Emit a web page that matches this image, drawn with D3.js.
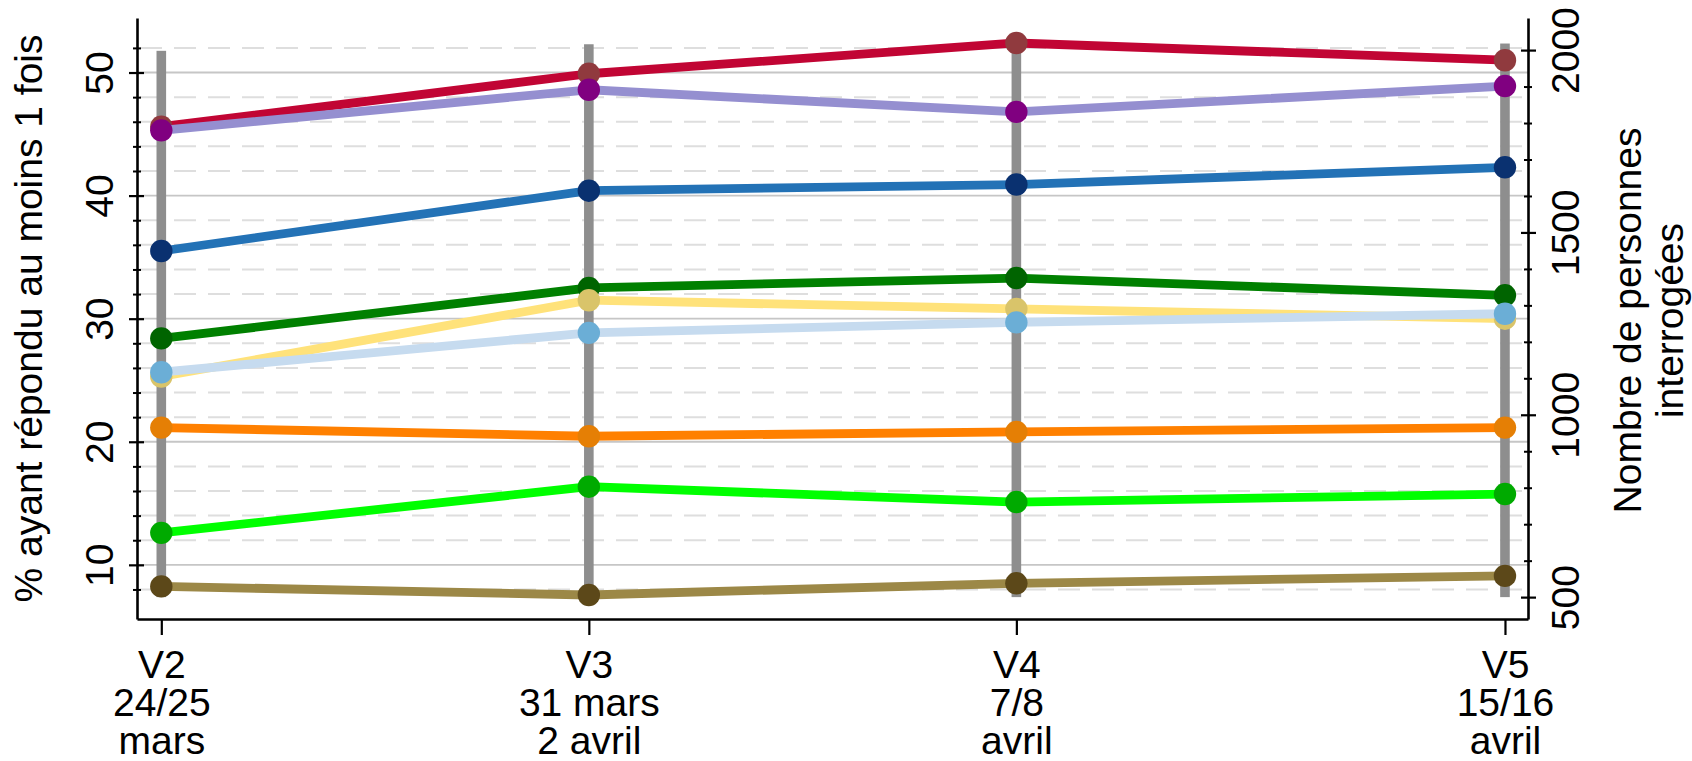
<!DOCTYPE html>
<html>
<head>
<meta charset="utf-8">
<script src="https://cdn.jsdelivr.net/npm/d3@7"></script>
<style>
  html, body { margin: 0; padding: 0; background: #fff; }
  svg { display: block; }
  text { font-family: "Liberation Sans", Arial, Helvetica, sans-serif; fill: #000; }
</style>
</head>
<body>
<svg id="chart" width="1692" height="761"></svg>
<script>
// ---------------- data ----------------
const waves = ["V2", "V3", "V4", "V5"];
const waveDays = [24, 31, 38, 46];            // jour (compté depuis le 1er mars)
const waveLabels = [
  ["V2", "24/25", "mars"],
  ["V3", "31 mars", "2 avril"],
  ["V4", "7/8", "avril"],
  ["V5", "15/16", "avril"]
];
const nInterviewed = [1998, 2016, 2030, 2018];   // axe de droite

const serieRouge      = [45.6, 49.9, 52.4, 51.0];
const serieLavande    = [45.3, 48.6, 46.8, 48.9];
const serieBleu       = [35.5, 40.4, 40.9, 42.3];
const serieVert       = [28.4, 32.5, 33.3, 31.9];
const serieJaune      = [25.3, 31.5, 30.8, 30.0];
const serieBleuClair  = [25.65, 28.85, 29.7, 30.4];
const serieOrange     = [21.15, 20.45, 20.8, 21.15];
const serieVertVif    = [12.6, 16.35, 15.1, 15.75];
const serieBrun       = [8.25, 7.55, 8.5, 9.1];

const leftMajorTicks = [10, 20, 30, 40, 50];
const leftMinorTicks = [8, 12, 14, 16, 18, 22, 24, 26, 28, 32, 34, 36, 38, 42, 44, 46, 48, 52];
const rightMajorTicks = [500, 1000, 1500, 2000];
const rightMinorTicks = [600, 700, 800, 900, 1100, 1200, 1300, 1400, 1600, 1700, 1800, 1900];

const leftTitle = "% ayant répondu au moins 1 fois";
const rightTitle = ["Nombre de personnes", "interrogées"];

// ---------------- styles ----------------
const seriesData = [serieRouge, serieLavande, serieBleu, serieVert, serieJaune,
                    serieBleuClair, serieOrange, serieVertVif, serieBrun];
const lineColors   = ["#C10534", "#958FD0", "#2372B6", "#008000", "#FFE27A",
                      "#C6DBEF", "#FF8000", "#00FF00", "#9C8847"];
const markerColors = ["#903A3E", "#800080", "#0A3170", "#006400", "#D9C46A",
                      "#6BAED6", "#E57F05", "#00AA00", "#5C4819"];

const FS = 39;
const xL = 137, xR = 1528, yT = 18, yB = 619;

const svg = d3.select("#chart");

const x = d3.scaleLinear().domain([23.602, 46.377]).range([xL, xR]);
const yL = d3.scaleLinear().domain([5.6, 54.43]).range([yB, yT]);
const yR = d3.scaleLinear().domain([440, 2088]).range([yB, yT]);

// ---------------- grid ----------------
const grid = svg.append("g");
grid.selectAll("line.minor").data(leftMinorTicks).join("line")
  .attr("x1", xL + 3).attr("x2", xR - 3)
  .attr("y1", d => yL(d)).attr("y2", d => yL(d))
  .attr("stroke", "#DEDEDE").attr("stroke-width", 2)
  .attr("stroke-dasharray", "22,12");
grid.selectAll("line.major").data(leftMajorTicks).join("line")
  .attr("x1", xL).attr("x2", xR)
  .attr("y1", d => yL(d)).attr("y2", d => yL(d))
  .attr("stroke", "#C6C6C6").attr("stroke-width", 1.8);

// ---------------- bars (right axis) ----------------
svg.append("g").selectAll("rect").data(nInterviewed).join("rect")
  .attr("x", (d, i) => x(waveDays[i]) - 4.8)
  .attr("width", 9.6)
  .attr("y", d => yR(d))
  .attr("height", d => yR(500) - yR(d))
  .attr("fill", "#8E8E8E");

// ---------------- series ----------------
const line = d3.line().x((d, i) => x(waveDays[i])).y(d => yL(d));
seriesData.forEach((s, k) => {
  const g = svg.append("g");
  g.append("path").datum(s)
    .attr("d", line)
    .attr("fill", "none")
    .attr("stroke", lineColors[k])
    .attr("stroke-width", 8.8)
    .attr("stroke-linejoin", "round");
  g.selectAll("circle").data(s).join("circle")
    .attr("cx", (d, i) => x(waveDays[i]))
    .attr("cy", d => yL(d))
    .attr("r", 11.2)
    .attr("fill", markerColors[k]);
});

// ---------------- axes ----------------
function styleAxis(g) {
  g.select(".domain").attr("stroke", "#000").attr("stroke-width", 2.6);
  g.selectAll(".tick line").attr("stroke", "#000").attr("stroke-width", 2.2);
}

// left major
const axL = svg.append("g").attr("transform", `translate(${xL},0)`)
  .call(d3.axisLeft(yL).tickValues(leftMajorTicks).tickSize(8).tickSizeOuter(0));
styleAxis(axL);
axL.selectAll(".tick line").attr("x1", 7);
axL.selectAll(".tick text").remove();
axL.selectAll(".tick").append("text")
  .attr("transform", "translate(-24,0) rotate(-90)")
  .attr("text-anchor", "middle")
  .attr("font-size", FS)
  .text(d => d);
// left minor
const axLm = svg.append("g").attr("transform", `translate(${xL},0)`)
  .call(d3.axisLeft(yL).tickValues(leftMinorTicks).tickSize(4).tickFormat(""));
axLm.select(".domain").remove();
axLm.selectAll(".tick line").attr("stroke", "#000").attr("stroke-width", 2).attr("x1", 4);

// right major
const axR = svg.append("g").attr("transform", `translate(${xR},0)`)
  .call(d3.axisRight(yR).tickValues(rightMajorTicks).tickSize(8).tickSizeOuter(0));
styleAxis(axR);
axR.selectAll(".tick line").attr("x1", -7);
axR.selectAll(".tick text").remove();
axR.selectAll(".tick").append("text")
  .attr("transform", "translate(51,0) rotate(-90)")
  .attr("text-anchor", "middle")
  .attr("font-size", FS)
  .text(d => d);
// right minor
const axRm = svg.append("g").attr("transform", `translate(${xR},0)`)
  .call(d3.axisRight(yR).tickValues(rightMinorTicks).tickSize(4).tickFormat(""));
axRm.select(".domain").remove();
axRm.selectAll(".tick line").attr("stroke", "#000").attr("stroke-width", 2).attr("x1", -4);

// bottom
const axB = svg.append("g").attr("transform", `translate(0,${yB})`)
  .call(d3.axisBottom(x).tickValues(waveDays).tickSize(16).tickSizeOuter(0));
styleAxis(axB);
axB.selectAll(".tick text").remove();
axB.selectAll(".tick").each(function(d, i) {
  const t = d3.select(this).append("text")
    .attr("text-anchor", "middle")
    .attr("font-size", FS);
  const baselines = [59, 97, 135];
  waveLabels[i].forEach((s, j) => {
    t.append("tspan").attr("x", 0).attr("y", baselines[j]).text(s);
  });
});

// ---------------- titles ----------------
svg.append("text")
  .attr("transform", `translate(42,${(yT + yB) / 2}) rotate(-90)`)
  .attr("text-anchor", "middle")
  .attr("font-size", FS)
  .text(leftTitle);

const rt = svg.append("text")
  .attr("transform", `translate(1641,${(yT + yB) / 2 + 2}) rotate(-90)`)
  .attr("text-anchor", "middle")
  .attr("font-size", FS);
rt.append("tspan").attr("x", 0).attr("y", 0).text(rightTitle[0]);
rt.append("tspan").attr("x", 0).attr("y", 42).text(rightTitle[1]);
</script>
</body>
</html>
